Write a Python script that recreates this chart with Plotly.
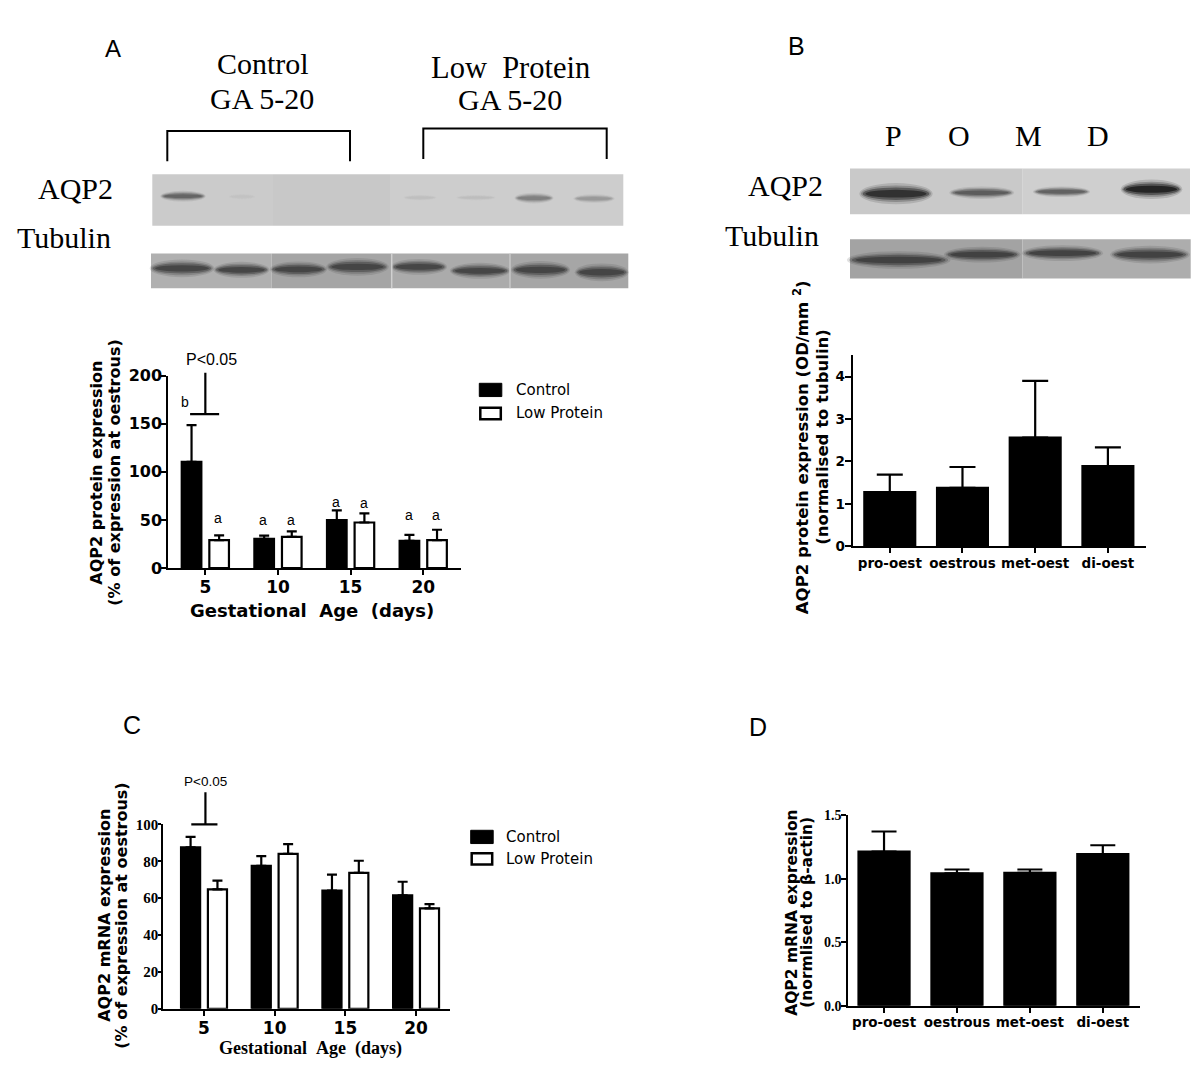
import plotly.graph_objects as go

W, H = 1200, 1080

# ---------------- data ----------------
ages = ["5", "10", "15", "20"]
stages = ["pro-oest", "oestrous", "met-oest", "di-oest"]

# Panel A: AQP2 protein (% of expression at oestrous)
a_control = [110.5, 30.3, 49.7, 28.3]
a_control_err = [38.2, 3.4, 10.2, 6.1]
a_lowprot = [28.9, 32.3, 47.3, 28.9]
a_lowprot_err = [5.1, 5.7, 9.5, 10.9]
a_control_letters = ["b", "a", "a", "a"]
a_lowprot_letters = ["a", "a", "a", "a"]

# Panel B: AQP2 protein over the oestrous cycle (OD/mm2, normalised to tubulin)
b_protein = [1.28, 1.38, 2.56, 1.89]
b_protein_err = [0.41, 0.49, 1.34, 0.44]

# Panel C: AQP2 mRNA (% of expression at oestrous)
c_control = [87.6, 77.5, 64.1, 61.5]
c_control_err = [5.6, 5.3, 8.7, 7.4]
c_lowprot = [64.8, 84.0, 73.7, 54.5]
c_lowprot_err = [4.7, 5.3, 6.6, 2.3]

# Panel D: AQP2 mRNA over the oestrous cycle (normalised to beta-actin)
d_mrna = [1.214, 1.042, 1.047, 1.194]
d_mrna_err = [0.158, 0.031, 0.026, 0.070]

# ---------------- helpers ----------------
def fx(p):
    return p / W


def fy(p):
    return 1 - p / H


SANS = "DejaVu Sans"
ARIAL = "Liberation Sans"
SERIF = "Liberation Serif"

PAIR_W = 0.27
CTRL_OFF = -0.19 - PAIR_W / 2
LP_OFF = 0.19 - PAIR_W / 2

# subplot geometry (pixels) and value ranges
GEO = {
    1: dict(x0=168.3, x1=461.0, top=373.3, bot=569.0, xr=[-0.51, 3.52], yr=[0, 200]),
    2: dict(x0=852.7, x1=1145.7, top=351.7, bot=547.0, xr=[-0.51, 3.52], yr=[0, 4.52]),
    3: dict(x0=163.3, x1=450.0, top=830.0, bot=1017.7, xr=[-0.576, 3.48], yr=[0, 100]),
    4: dict(x0=848.3, x1=1140.0, top=820.7, bot=1014.7, xr=[-0.49, 3.51], yr=[0, 1.5]),
}


def ypx(ax, v):
    """pixel row of value v on subplot ax's y axis"""
    g = GEO[ax]
    frac = (v - g["yr"][0]) / (g["yr"][1] - g["yr"][0])
    return g["bot"] - frac * (g["bot"] - g["top"])


def bar(x, y, err, fill, ax, width, offset=None, cap=5):
    sfx = "" if ax == 1 else str(ax)
    return go.Bar(
        x=x, y=y, width=width, offset=offset,
        marker=dict(color=fill, line=dict(color="black", width=2.2)),
        error_y=dict(type="data", symmetric=False, array=err,
                     arrayminus=[0] * len(err), color="black",
                     thickness=2.2, width=cap),
        xaxis="x" + sfx, yaxis="y" + sfx, showlegend=False, hoverinfo="skip",
    )


def txt(text, x, y, size, family=ARIAL, bold=False, angle=0,
        xanchor="center", yanchor="middle", xref="paper", yref="paper"):
    if xref == "paper":
        x = fx(x)
    if yref == "paper":
        y = fy(y)
    return dict(text=text, x=x, y=y, xref=xref, yref=yref, showarrow=False,
                textangle=angle, xanchor=xanchor, yanchor=yanchor,
                font=dict(family=family, size=size, color="black",
                          weight="bold" if bold else "normal"))


def rect(x0, y0, x1, y1, fill, lw=0, lc="black"):
    return dict(type="rect", xref="paper", yref="paper",
                x0=fx(x0), x1=fx(x1), y0=fy(y1), y1=fy(y0),
                fillcolor=fill, line=dict(width=lw, color=lc))


def band(xc, yc, w, h, color):
    out = []
    for sw, sh, op in [(1.08, 1.8, 0.15), (1.03, 1.4, 0.25), (0.98, 1.05, 0.45), (0.9, 0.65, 0.7)]:
        out.append(dict(type="circle", xref="paper", yref="paper",
                        x0=fx(xc - w * sw / 2), x1=fx(xc + w * sw / 2),
                        y0=fy(yc + h * sh / 2), y1=fy(yc - h * sh / 2),
                        fillcolor=color, opacity=op, line=dict(width=0)))
    return out


def pline(points, width=2, color="black"):
    d = "M" + " L".join(f"{fx(a):.5f},{fy(b):.5f}" for a, b in points)
    return dict(type="path", xref="paper", yref="paper", path=d,
                line=dict(color=color, width=width))


def vline(x, y0, y1, color, width=1.5):
    return dict(type="line", xref="paper", yref="paper", x0=fx(x), x1=fx(x),
                y0=fy(y0), y1=fy(y1), line=dict(color=color, width=width))


# ---------------- traces ----------------
fig = go.Figure()
fig.add_trace(bar(ages, a_control, a_control_err, "black", 1, PAIR_W, CTRL_OFF, 5))
fig.add_trace(bar(ages, a_lowprot, a_lowprot_err, "white", 1, PAIR_W, LP_OFF, 5))
fig.add_trace(bar(stages, b_protein, b_protein_err, "black", 2, 0.7, None, 13))
fig.add_trace(bar(ages, c_control, c_control_err, "black", 3, PAIR_W, CTRL_OFF, 5))
fig.add_trace(bar(ages, c_lowprot, c_lowprot_err, "white", 3, PAIR_W, LP_OFF, 5))
fig.add_trace(bar(stages, d_mrna, d_mrna_err, "black", 4, 0.7, None, 12.5))


def xax(ax, size, family=SANS, ticklen=5, standoff=-2):
    g = GEO[ax]
    sfx = "" if ax == 1 else str(ax)
    return dict(domain=[fx(g["x0"]), fx(g["x1"])], range=g["xr"], type="category",
                anchor="y" + sfx, showline=True, linecolor="black", linewidth=2,
                ticks="outside", ticklen=ticklen, tickwidth=2, tickcolor="black",
                ticklabelstandoff=standoff,
                showgrid=False, zeroline=False, fixedrange=True,
                tickfont=dict(family=family, size=size, color="black", weight="bold"))


def yax(ax, tickvals, size, family=SANS, ticklen=5, standoff=-4, ticktext=None):
    g = GEO[ax]
    sfx = "" if ax == 1 else str(ax)
    d = dict(domain=[fy(g["bot"]), fy(g["top"])], range=g["yr"], anchor="x" + sfx,
             showline=True, linecolor="black", linewidth=2,
             ticks="outside", ticklen=ticklen, tickwidth=2, tickcolor="black",
             ticklabelstandoff=standoff,
             tickvals=tickvals, showgrid=False, zeroline=False, fixedrange=True,
             tickfont=dict(family=family, size=size, color="black", weight="bold"))
    if ticktext is not None:
        d["ticktext"] = ticktext
    return d


fig.update_layout(
    width=W, height=H, margin=dict(l=0, r=0, t=0, b=0),
    paper_bgcolor="white", plot_bgcolor="white", barmode="overlay",
    showlegend=False,
    xaxis=xax(1, 17),
    yaxis=yax(1, [0, 50, 100, 150, 200], 16),
    xaxis2=xax(2, 13.5, standoff=-2),
    yaxis2=yax(2, [0, 1, 2, 3, 4], 13.5, ticklen=6, standoff=-3),
    xaxis3=xax(3, 17),
    yaxis3=yax(3, [0, 20, 40, 60, 80, 100], 15, family=SERIF, ticklen=3, standoff=-3),
    xaxis4=xax(4, 13.5, standoff=-2),
    yaxis4=yax(4, [0, 0.5, 1.0, 1.5], 14, family=SERIF, ticklen=5, standoff=-3,
               ticktext=["0.0", "0.5", "1.0", "1.5"]),
)

# ---------------- annotations ----------------
ann = []
# panel letters
ann.append(txt("A", 113, 40, 24))
ann.append(txt("B", 796, 38, 25))
ann.append(txt("C", 132, 729, 25))
ann.append(txt("D", 758, 731, 25))

# Panel A blot labels
ann.append(txt("Control", 263, 55, 30, SERIF))
ann.append(txt("GA 5-20", 262, 91, 30, SERIF))
ann.append(txt("Low\u00a0\u00a0Protein", 510, 60, 30.5, SERIF))
ann.append(txt("GA 5-20", 510, 92, 30, SERIF))
ann.append(txt("AQP2", 36, 183, 30, SERIF, xanchor="left"))
ann.append(txt("Tubulin", 15, 233, 30, SERIF, xanchor="left"))

# Panel B blot labels
for lab, xc in zip(["P", "O", "M", "D"], [893.3, 959, 1028.3, 1098.3]):
    ann.append(txt(lab, xc, 129, 30, SERIF))
ann.append(txt("AQP2", 746, 180, 30, SERIF, xanchor="left"))
ann.append(txt("Tubulin", 723, 231, 30, SERIF, xanchor="left"))

# axis titles
GAP = "\u00a0\u00a0"
ann.append(txt("AQP2 protein expression", 97, 472, 16, SANS, True, -90))
ann.append(txt("(% of expression at oestrous)", 115, 472, 16, SANS, True, -90))
ann.append(txt(f"Gestational{GAP}Age{GAP}(days)", 311.7, 612, 18, SANS, True))

ann.append(txt("AQP2 protein expression (OD/mm <sup>2</sup>)", 801, 446, 16.5, SANS, True, -90))
ann.append(txt("(normalised to tubulin)", 822.5, 436, 16.5, SANS, True, -90))

ann.append(txt("AQP2 mRNA expression", 105, 923, 16, SANS, True, -90))
ann.append(txt("(% of expression at oestrous)", 122, 923, 16, SANS, True, -90))
ann.append(txt(f"Gestational{GAP}Age{GAP}(days)", 310, 1058, 18, SERIF, True))

ann.append(txt("AQP2 mRNA expression", 792, 920, 15.5, SANS, True, -90))
ann.append(txt("(normlised to \u03b2-actin)", 807, 920, 15.5, SANS, True, -90))

# Panel A significance letters (x in category units, y from the value axis)
a_ctrl_label_y = [172.4, 50, 69, 55]
a_lp_label_y = [52, 50, 67.5, 55]
for i in range(4):
    xc = -0.28 if i == 0 else i - 0.2
    ann.append(txt(a_control_letters[i], xc, ypx(1, a_ctrl_label_y[i]), 14, xref="x"))
    ann.append(txt(a_lowprot_letters[i], i + 0.18, ypx(1, a_lp_label_y[i]), 14, xref="x"))
ann.append(txt("P&lt;0.05", 0.09, ypx(1, 217), 16, xref="x"))
ann.append(txt("P&lt;0.05", 0.02, ypx(3, 123.5), 13.5, xref="x3"))

# legends
for (bx, by1, by2, tx) in [(479.3, 381, 405, 514.3), (470.7, 836, 858.3, 504)]:
    ann.append(txt("Control", tx, by1 + 7, 15, SANS, xanchor="left"))
    ann.append(txt("Low Protein", tx, by2 + 6.5, 15, SANS, xanchor="left"))

fig.update_layout(annotations=ann)

# ---------------- shapes ----------------
shapes = []


# significance brackets (x in category units, y converted from axis values)
def bracket(ax, x_lo, x_hi, x_stem, y_base, y_top):
    xr = "x" if ax == 1 else f"x{ax}"
    ln = dict(color="black", width=2.2)
    return [
        dict(type="line", xref=xr, yref="paper", x0=x_stem, x1=x_stem,
             y0=fy(ypx(ax, y_base)), y1=fy(ypx(ax, y_top)), line=ln),
        dict(type="line", xref=xr, yref="paper", x0=x_lo, x1=x_hi,
             y0=fy(ypx(ax, y_base)), y1=fy(ypx(ax, y_base)), line=ln),
    ]


shapes += bracket(1, -0.21, 0.19, 0.0, 160, 203)
shapes += bracket(3, -0.18, 0.19, 0.02, 100, 117.5)

# legend swatches
for (bx, by1, by2) in [(479.3, 381, 405), (470.7, 836, 858.3)]:
    shapes.append(rect(bx, by1, bx + 22.5, by1 + 13.5, "black", 1))
    shapes.append(rect(bx + 1, by2 + 1, bx + 21.5, by2 + 12.5, "white", 2.5))

# ---- Panel A western blot ----
shapes.append(pline([(167.3, 155), (167.3, 124.3), (350, 124.3), (350, 155)], 2))
shapes.append(pline([(423.3, 152.7), (423.3, 121.7), (606.7, 121.7), (606.7, 152.7)], 2))

for x0, x1, col in [(152.3, 273, "#cbcbcb"), (273, 390, "#c8c8c8"), (390, 623.3, "#cdcdcd")]:
    shapes.append(rect(x0, 168.3, x1, 220.7, col))
for xc, yc, w, h, col in [(183, 190.5, 42, 6, "#5a5a5a"), (242, 191, 24, 3, "#c2c2c2"),
                          (420, 192, 30, 3, "#bdbdbd"), (476, 192, 36, 3, "#bbbbbb"),
                          (534, 192.5, 36, 6, "#777777"), (594, 193, 38, 5, "#939393")]:
    shapes += band(xc, yc, w, h, col)

for x0, x1, col in [(151, 271.7, "#b0b0b0"), (271.7, 391.7, "#a5a5a5"),
                    (391.7, 510, "#ababab"), (510, 628.3, "#a6a6a6")]:
    shapes.append(rect(x0, 249, x1, 284.3, col))
for xc, yc, w, h in [(182, 264, 60, 10), (241.5, 265.5, 52, 9), (298.5, 265, 53, 9),
                     (357.5, 262.5, 58, 10), (419, 262.5, 52, 9), (480, 266.5, 56, 9),
                     (540.5, 265.5, 55, 10), (601.7, 268, 50, 10)]:
    shapes += band(xc, yc, w, h, "#3a3a3a")
shapes.append(vline(391.7, 249, 284.3, "#d0d0d0", 1.5))
shapes.append(vline(510, 249, 284.3, "#cfcfcf", 1.2))

# ---- Panel B western blot ----
for x0, x1, col in [(850, 1022.7, "#c9c9c9"), (1022.7, 1190, "#cfcfcf")]:
    shapes.append(rect(x0, 162.3, x1, 209, col))
for xc, yc, w, h, col in [(896, 188, 68, 12, "#202020"), (981.7, 187, 60, 7, "#505050"),
                          (1061.5, 186, 53, 6, "#555555"), (1151.5, 183.5, 57, 11, "#111111")]:
    shapes += band(xc, yc, w, h, col)

for x0, x1, col in [(850, 1022.5, "#a3a3a3"), (1022.5, 1190.7, "#adadad")]:
    shapes.append(rect(x0, 234.3, x1, 274.3, col))
for xc, yc, w, h in [(898.7, 255.5, 96, 10), (982.3, 250, 71, 9),
                     (1062.5, 248.5, 75, 9), (1150, 250, 74, 10)]:
    shapes += band(xc, yc, w, h, "#363636")

fig.update_layout(shapes=shapes)

fig.write_html("out.html", config={"displayModeBar": False},
               post_script="document.body.style.margin='0px';")
